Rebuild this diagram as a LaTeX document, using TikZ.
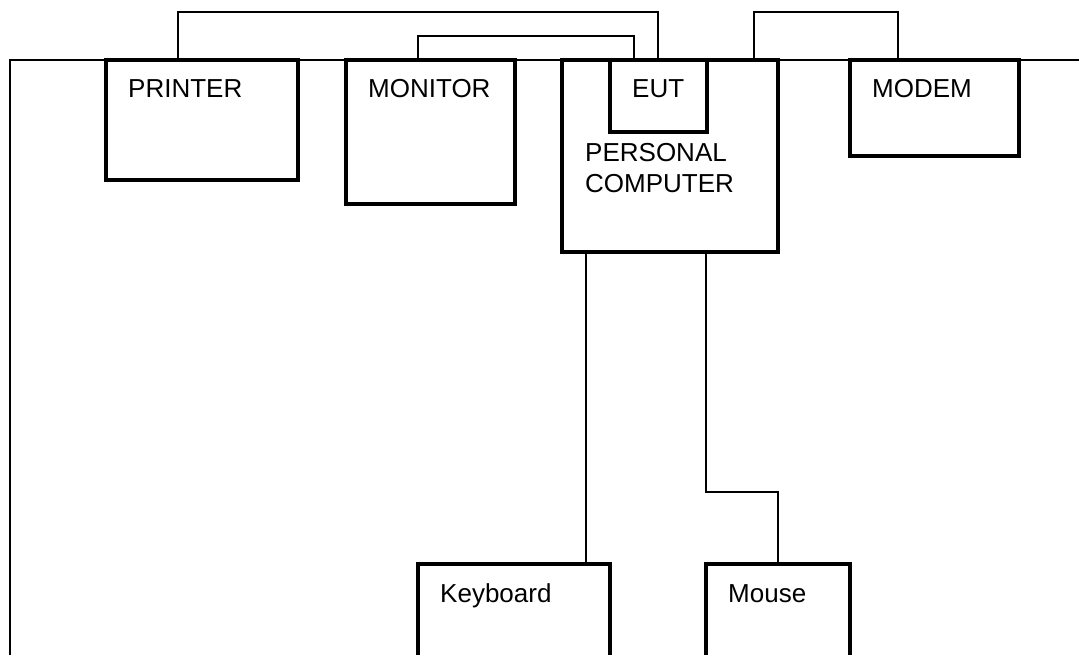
\documentclass[tikz,border=0pt]{standalone}
\usepackage{fontspec}
\setmainfont{Liberation Sans}
\begin{document}
\begin{tikzpicture}[x=1pt,y=-1pt,
  unit/.style={draw=black,line width=3.6pt,fill=white,rectangle,inner sep=0pt,outer sep=0pt,anchor=north west},
  wire/.style={draw=black,line width=1.3pt},
  lbl/.style={anchor=base west,inner sep=0pt,font=\fontsize{26}{31}\selectfont}]
\useasboundingbox (0,0) rectangle (1079,655);
\clip (0,0) rectangle (1079,655);
% outer enclosure line
\coordinate (encl bottom) at (10,655);
\coordinate (encl corner) at (10,60);
\coordinate (encl right) at (1079,60);
\draw[wire] (encl bottom) -- (encl corner) -- (encl right);
% units
\node[unit,minimum width=192pt,minimum height=120pt] (printer) at (106,60) {};
\node[unit,minimum width=169pt,minimum height=144pt] (monitor) at (346,60) {};
\node[unit,minimum width=216pt,minimum height=192pt] (pc) at (562,60) {};
\node[unit,minimum width=97pt,minimum height=72pt] (eut) at (610,60) {};
\node[unit,minimum width=169pt,minimum height=96pt] (modem) at (850,60) {};
\node[unit,minimum width=192pt,minimum height=144pt] (keyboard) at (418,564) {};
\node[unit,minimum width=144pt,minimum height=144pt] (mouse) at (706,564) {};
% labels
\node[lbl] (printer text) at (128,98) {PRINTER};
\node[lbl] (monitor text) at (368,98) {MONITOR};
\node[lbl] (eut text) at (632,98) {EUT};
\node[lbl,align=left] (pc text) at (585,193) {PERSONAL\\COMPUTER};
\node[lbl] (modem text) at (872,98) {MODEM};
\node[lbl] (keyboard text) at (440,602) {Keyboard};
\node[lbl] (mouse text) at (728,602) {Mouse};
% ports
\coordinate (p1) at ([xshift=72pt]printer.north west);
\coordinate (e1) at ([xshift=48pt]eut.north west);
\coordinate (m1) at ([xshift=72pt]monitor.north west);
\coordinate (e2) at ([xshift=24pt]eut.north west);
\coordinate (c1) at ([xshift=-24pt]pc.north east);
\coordinate (d1) at ([xshift=48pt]modem.north west);
\coordinate (c2) at ([xshift=24pt]pc.south west);
\coordinate (k1) at ([xshift=-24pt]keyboard.north east);
\coordinate (c3) at ([xshift=144pt]pc.south west);
\coordinate (s1) at ([xshift=72pt]mouse.north west);
% connectors
\draw[wire] (p1) -- (p1 |- 0,12) -- (e1 |- 0,12) -- (e1);
\draw[wire] (m1) -- (m1 |- 0,36) -- (e2 |- 0,36) -- (e2);
\draw[wire] (c1) -- (c1 |- 0,12) -- (d1 |- 0,12) -- (d1);
\draw[wire] (c2) -- (k1);
\draw[wire] (c3) -- (c3 |- 0,492) -- (s1 |- 0,492) -- (s1);
\end{tikzpicture}
\end{document}
